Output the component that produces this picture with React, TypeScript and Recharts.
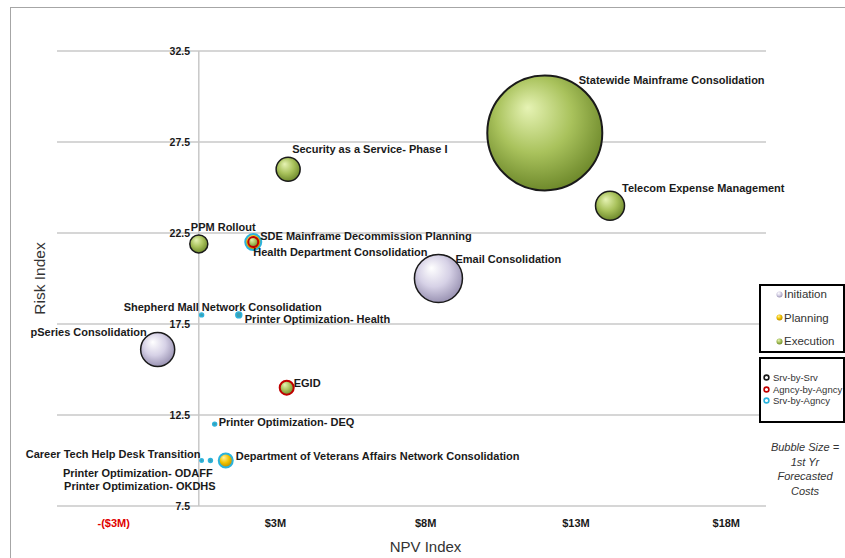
import React from 'react';
import {
    ScatterChart,
    Scatter,
    XAxis,
    YAxis,
    ZAxis,
    CartesianGrid,
    ReferenceLine,
    Label
} from 'recharts';

// project portfolio: NPV ($M) vs risk, bubble area = 1st yr forecasted cost ($K)
const projects = [
    'Statewide Mainframe Consolidation',
    'Email Consolidation',
    'pSeries Consolidation',
    'Telecom Expense Management',
    'Security as a Service- Phase I',
    'PPM Rollout',
    'SDE Mainframe Decommission Planning',
    'EGID',
    'Department of Veterans Affairs Network Consolidation',
    'Health Department Consolidation',
    'Printer Optimization- Health',
    'Shepherd Mall Network Consolidation',
    'Printer Optimization- DEQ',
    'Career Tech Help Desk Transition',
    'Printer Optimization- ODAFF',
    'Printer Optimization- OKDHS',
];
const npvIndex = [12.2, 8.45, -1.45, 14.5, 3.15, 0.0, 1.92, 3.1, 0.95, 1.92, 1.41, 0.1, 0.56, 0.41, 0.1, 0.1];
const riskIndex = [28.0, 20.0, 16.1, 24.0, 26.0, 21.9, 22.0, 14.0, 10.0, 22.0, 18.0, 18.0, 12.0, 10.0, 10.0, 10.0];
const firstYearCost = [3300, 576, 289, 210, 144, 81, 64, 49, 49, 25, 9, 4, 4, 4, 2, 2];
const phases = [
    'Execution', 'Initiation', 'Initiation', 'Execution', 'Execution', 'Execution', 'Planning', 'Execution',
    'Planning', 'Execution', 'Execution', 'Execution', 'Execution', 'Execution', 'Execution', 'Execution',
];
const sourcing = [
    'Srv-by-Srv', 'Srv-by-Srv', 'Srv-by-Srv', 'Srv-by-Srv', 'Srv-by-Srv', 'Srv-by-Srv', 'Srv-by-Agncy', 'Agncy-by-Agncy',
    'Srv-by-Agncy', 'Agncy-by-Agncy', 'Srv-by-Agncy', 'Srv-by-Agncy', 'Srv-by-Agncy', 'Srv-by-Agncy', 'Srv-by-Agncy', 'Srv-by-Agncy',
];

const xTickValues = [-3, 2.7, 8, 13.3, 18.6];
const xTickLabels = ['-($3M)', '$3M', '$8M', '$13M', '$18M'];
const yTickValues = [7.5, 12.5, 17.5, 22.5, 27.5, 32.5];

const phaseNames = ['Initiation', 'Planning', 'Execution'];
const sourcingNames = ['Srv-by-Srv', 'Agncy-by-Agncy', 'Srv-by-Agncy'];

const data = projects.map((name, i) => ({
    name,
    npv: npvIndex[i],
    risk: riskIndex[i],
    cost: firstYearCost[i],
    phase: phases[i],
    sourcing: sourcing[i],
}));

// label offset from bubble centre: [dx, dy, anchor]
const labelPlacement: Record<string, [number, number, string]> = {
    'Statewide Mainframe Consolidation': [34, -53, 'start'],
    'Email Consolidation': [17, -20, 'start'],
    'pSeries Consolidation': [-11, -17, 'end'],
    'Telecom Expense Management': [12, -18, 'start'],
    'Security as a Service- Phase I': [4, -20, 'start'],
    'PPM Rollout': [-8, -17, 'start'],
    'SDE Mainframe Decommission Planning': [7, -6, 'start'],
    'EGID': [7, -5, 'start'],
    'Department of Veterans Affairs Network Consolidation': [10, -5, 'start'],
    'Health Department Consolidation': [0, 10, 'start'],
    'Printer Optimization- Health': [6, 4, 'start'],
    'Shepherd Mall Network Consolidation': [-78, -8, 'start'],
    'Printer Optimization- DEQ': [4, -2, 'start'],
    'Career Tech Help Desk Transition': [-10, -7, 'end'],
    'Printer Optimization- ODAFF': [11, 12, 'end'],
    'Printer Optimization- OKDHS': [14, 25, 'end'],
};

const ringColor: Record<string, string> = {
    'Srv-by-Srv': '#1a1a1a',
    'Agncy-by-Agncy': '#c00000',
    'Srv-by-Agncy': '#2bb3dd',
};

const Bubble = (props: any) => {
    const { cx, cy, width, payload } = props;
    const r = Math.max((width || 0) / 2, 1.6);
    const sw = r < 4 ? 1.4 : payload.sourcing === 'Srv-by-Srv' ? (r > 40 ? 2 : 1.5) : 2;
    return (
        <circle
            cx={cx}
            cy={cy}
            r={r}
            fill={r < 4 ? '#3a9fb3' : `url(#grad-${payload.phase})`}
            stroke={ringColor[payload.sourcing]}
            strokeWidth={sw}
        />
    );
};

const BubbleLabel = (props: any) => {
    const { cx, cy, payload } = props;
    const [dx, dy, anchor] = labelPlacement[payload.name];
    return (
        <text
            x={cx + dx}
            y={cy + dy}
            textAnchor={anchor as any}
            dominantBaseline="central"
            fontSize={11}
            fontWeight="bold"
            fill="#1a1a1a"
        >
            {payload.name}
        </text>
    );
};

const XTick = ({ x, y, payload, index }: any) => (
    <text
        x={x}
        y={y + 17}
        textAnchor="middle"
        dominantBaseline="central"
        fontSize={11}
        fontWeight="bold"
        fontFamily="'Liberation Sans Narrow', 'Liberation Sans', Arial, sans-serif"
        fill={index === 0 ? '#e00000' : '#1a1a1a'}
    >
        {xTickLabels[xTickValues.indexOf(payload.value)] ?? ''}
    </text>
);

const YTick = ({ x, y, payload }: any) => (
    <text x={x + 133} y={y} textAnchor="end" dominantBaseline="central" fontSize={10.5} fontWeight="bold" fill="#1a1a1a">
        {payload.value}
    </text>
);

const legendDot = (phase: string) => (
    <svg width={7} height={7} style={{ marginRight: 1 }}>
        <circle cx={3.5} cy={3.5} r={3} fill={`url(#grad-${phase})`} />
    </svg>
);

const ringDot = (s: string) => (
    <svg width={7} height={7} style={{ marginRight: 3 }}>
        <circle cx={3.5} cy={3.5} r={2.4} fill="#fff" stroke={ringColor[s]} strokeWidth={1.6} />
    </svg>
);

export default function App() {
    return (
        <div style={{ position: 'relative', width: 845, height: 558, fontFamily: "'Liberation Sans', Arial, sans-serif", background: '#fff' }}>
            <style>{'body{margin:0}'}</style>
            <svg width={0} height={0} style={{ position: 'absolute' }}>
                <defs>
                    <radialGradient id="grad-Execution" cx="45%" cy="40%" r="60%" fx="35%" fy="28%">
                        <stop offset="0%" stopColor="#e6f3b4" />
                        <stop offset="55%" stopColor="#a9c25c" />
                        <stop offset="100%" stopColor="#6f8a2c" />
                    </radialGradient>
                    <radialGradient id="grad-Initiation" cx="45%" cy="40%" r="60%" fx="35%" fy="28%">
                        <stop offset="0%" stopColor="#ffffff" />
                        <stop offset="55%" stopColor="#d6d1e6" />
                        <stop offset="100%" stopColor="#9a93b3" />
                    </radialGradient>
                    <radialGradient id="grad-Planning" cx="45%" cy="40%" r="60%" fx="35%" fy="28%">
                        <stop offset="0%" stopColor="#fff3a0" />
                        <stop offset="55%" stopColor="#f2c300" />
                        <stop offset="100%" stopColor="#b88a00" />
                    </radialGradient>
                </defs>
            </svg>

            {/* chart frame */}
            <div style={{ position: 'absolute', left: 10, top: 7, width: 835, height: 551, borderTop: '1.5px solid #a6a6a6', borderLeft: '1.5px solid #a6a6a6' }} />

            <ScatterChart width={845} height={558} margin={{ top: 51, right: 79, bottom: 0, left: 21 }} style={{ position: 'absolute', left: 0, top: 0 }}>
                <CartesianGrid vertical={false} stroke="#c8c8c8" strokeWidth={1.5} />
                <XAxis
                    type="number"
                    dataKey="npv"
                    domain={[-5, 20]}
                    ticks={xTickValues}
                    interval={0}
                    height={52}
                    axisLine={false}
                    tickLine={false}
                    tickSize={0}
                    tickMargin={0}
                    tick={<XTick />}
                >
                    <Label value="NPV Index" position="insideBottom" offset={6} dx={14} fontSize={15} fill="#333" />
                </XAxis>
                <YAxis
                    type="number"
                    dataKey="risk"
                    domain={[7.5, 32.5]}
                    ticks={yTickValues}
                    interval={0}
                    width={36}
                    axisLine={false}
                    tickLine={false}
                    tickSize={0}
                    tickMargin={0}
                    tick={<YTick />}
                >
                    <Label value="Risk Index" angle={-90} position="center" fontSize={15.5} fill="#333" />
                </YAxis>
                <ZAxis type="number" dataKey="cost" domain={[0, 3300]} range={[0, 10387]} />
                <ReferenceLine x={0} stroke="#c8c8c8" strokeWidth={1.5} />
                <Scatter data={data} shape={<Bubble />} isAnimationActive={false} />
                <Scatter data={data} shape={<BubbleLabel />} isAnimationActive={false} />
            </ScatterChart>

            {/* phase legend */}
            <div style={{ position: 'absolute', left: 759, top: 284, width: 86, height: 69, boxSizing: 'border-box', border: '2px solid #000', background: '#fff', fontSize: 11.5, color: '#333' }}>
                {phaseNames.map((p, i) => (
                    <div key={p} style={{ position: 'absolute', left: 15, top: 1 + i * 23.5, display: 'flex', alignItems: 'center', height: 14 }}>
                        {legendDot(p)}
                        {p}
                    </div>
                ))}
            </div>

            {/* sourcing legend */}
            <div style={{ position: 'absolute', left: 759, top: 357, width: 86, height: 66, boxSizing: 'border-box', border: '2px solid #000', background: '#fff', fontSize: 9.5, color: '#333' }}>
                {sourcingNames.map((s, i) => (
                    <div key={s} style={{ position: 'absolute', left: 2, top: 13 + i * 11.5, display: 'flex', alignItems: 'center', height: 11, whiteSpace: 'nowrap' }}>
                        {ringDot(s)}
                        {s}
                    </div>
                ))}
            </div>

            <div style={{ position: 'absolute', left: 765, top: 440, width: 80, textAlign: 'center', fontStyle: 'italic', fontSize: 11, lineHeight: '14.5px', color: '#333' }}>
                Bubble Size =<br />1st Yr<br />Forecasted<br />Costs
            </div>
        </div>
    );
}
